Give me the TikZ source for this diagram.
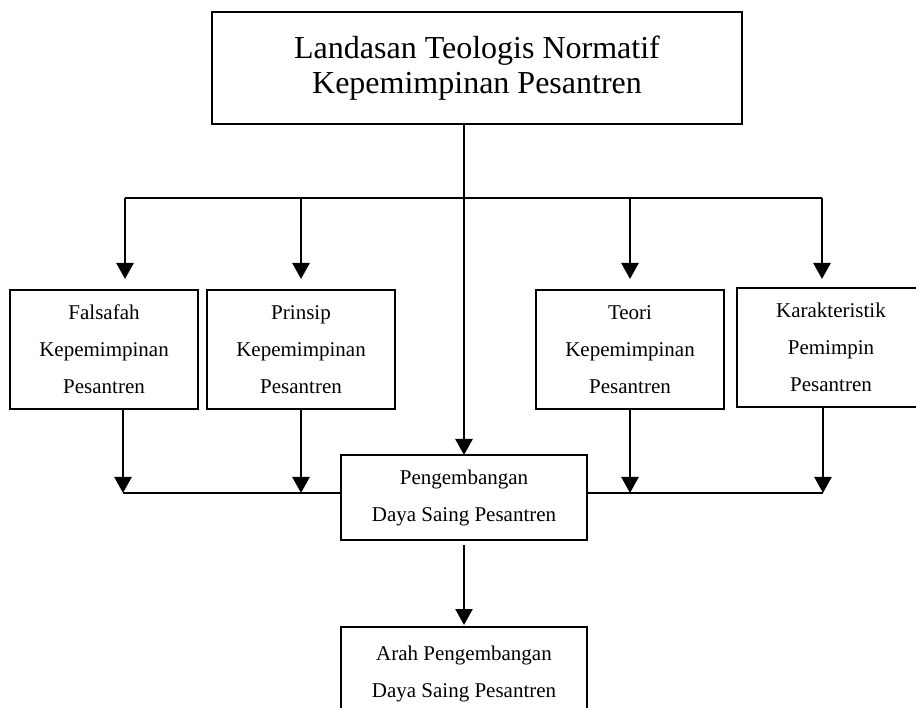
\documentclass[tikz,border=0pt]{standalone}
\usepackage{fontspec}
\setmainfont{Liberation Serif}
\usetikzlibrary{arrows.meta,calc,positioning}

\begin{document}
\begin{tikzpicture}[x=1pt,y=-1pt,
  box/.style={draw,rectangle,line width=2pt,outer sep=0pt,inner sep=0pt,align=center,
    font=\fontsize{21}{37}\selectfont,minimum width=188pt,minimum height=119pt},
  arr/.style={line width=2.6pt,-{Triangle[width=17pt,length=16pt]}},
  bus/.style={line width=2.2pt}]

        \useasboundingbox (0,0) rectangle (916,708);

        \node[box,minimum width=530pt,minimum height=112pt,font=\fontsize{32}{35}\selectfont] (top) at (477,68) {Landasan Teologis Normatif\\Kepemimpinan Pesantren};

        \node[box] (fal) at (104,349.5) {Falsafah\\Kepemimpinan\\Pesantren};
        \node[box] (pri) [right = 9pt of fal] {Prinsip\\Kepemimpinan\\Pesantren};
        \node[box] (teo) at (630,349.5) {Teori\\Kepemimpinan\\Pesantren};
        \node[box] (kar) [right = 13pt of teo, yshift=2pt] {Karakteristik\\Pemimpin\\Pesantren};

        \node[box,minimum width=246pt,minimum height=85pt] (pg) at (464,497.5) {Pengembangan\\Daya Saing Pesantren};
        \node[box,minimum width=246pt,minimum height=93pt] (arah) [below = 87pt of pg] {Arah Pengembangan\\Daya Saing Pesantren};

        % upper bus
        \coordinate (bw) at (125,198);
        \coordinate (be) at (822,198);
        \draw[bus] (bw) -- (be);
        \draw[arr] (top.south -| pg.north) -- (pg.north);
        \draw[arr,shorten >=11pt] (bw) -- (bw |- fal.north);
        \draw[arr,shorten >=11pt] (pri.north |- bw) -- (pri.north);
        \draw[arr,shorten >=11pt] (teo.north |- bw) -- (teo.north);
        \draw[arr,shorten >=9pt] (be) -- (be |- kar.north);

        % lower bus
        \coordinate (lw) at (123,493);
        \coordinate (le) at (823,493);
        \draw[bus] (lw) -- (lw -| pg.west) (pg.east |- le) -- (le);
        \draw[arr] (lw |- fal.south) -- (lw);
        \draw[arr] (pri.south) -- (pri.south |- lw);
        \draw[arr] (teo.south) -- (teo.south |- le);
        \draw[arr] (le |- kar.south) -- (le);

        \draw[arr,shorten <=5pt,shorten >=2pt] (pg.south) -- (arah.north);
      \end{tikzpicture}
\end{document}
